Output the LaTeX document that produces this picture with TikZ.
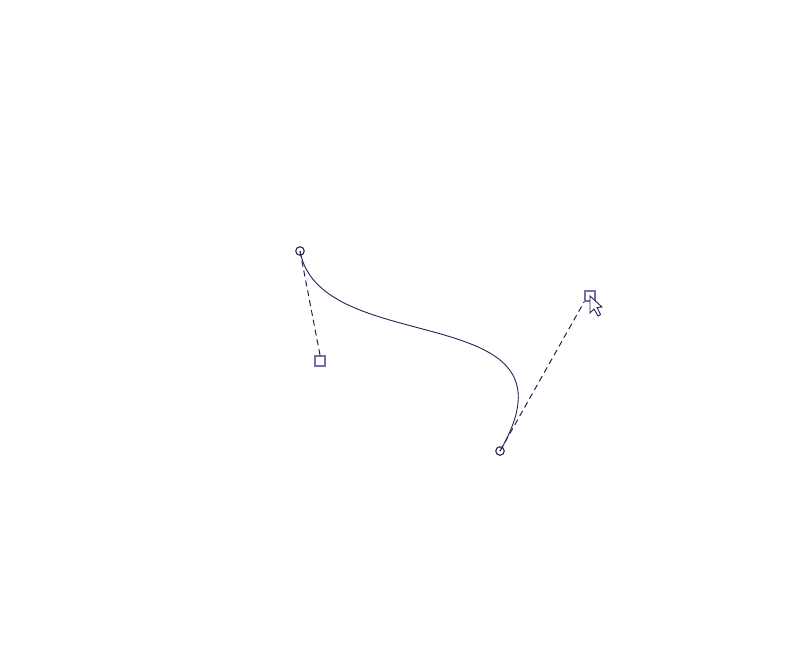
\documentclass[tikz,border=0pt]{standalone}
\usepackage{xcolor}
\definecolor{curveink}{HTML}{2A1F55}
\definecolor{handleink}{HTML}{7F68A6}
\tikzset{
    anchorpt/.style={circle,draw=curveink,line width=1.1pt,fill=none,minimum size=8.5pt,inner sep=0pt},
    handlept/.style={rectangle,draw=handleink,line width=1.8pt,fill=none,minimum size=10pt,inner sep=0pt},
    handleline/.style={draw=curveink,line width=1pt,dash pattern=on 6pt off 4pt},
    curveline/.style={draw=curveink,line width=0.9pt},
    cursorshape/.style={draw=curveink,fill=white,line width=0.9pt,line join=miter}
}

\begin{document}
\begin{tikzpicture}[x=1pt,y=-1pt]
    \useasboundingbox (0, 0) rectangle (792, 649);

    \node[anchorpt] (start) at (300, 251) {};
    \node[anchorpt] (end) at (500, 451) {};
    \node[handlept] (handleA) at (320, 361) {};
    \node[handlept] (handleB) at (590, 296) {};

    \draw [handleline](start.center) -- (handleA.north);
    \draw [handleline](end.center) -- (handleB.south west);
    \draw [curveline](start.center) .. controls (handleA.center) and (handleB.center) .. (end.center);

    \draw [cursorshape](590, 296) -- (590, 313) -- (594, 309) -- (598, 316) -- (600.5, 314.5) -- (597, 307.5) -- (602, 307) -- cycle;
\end{tikzpicture}
\end{document}
